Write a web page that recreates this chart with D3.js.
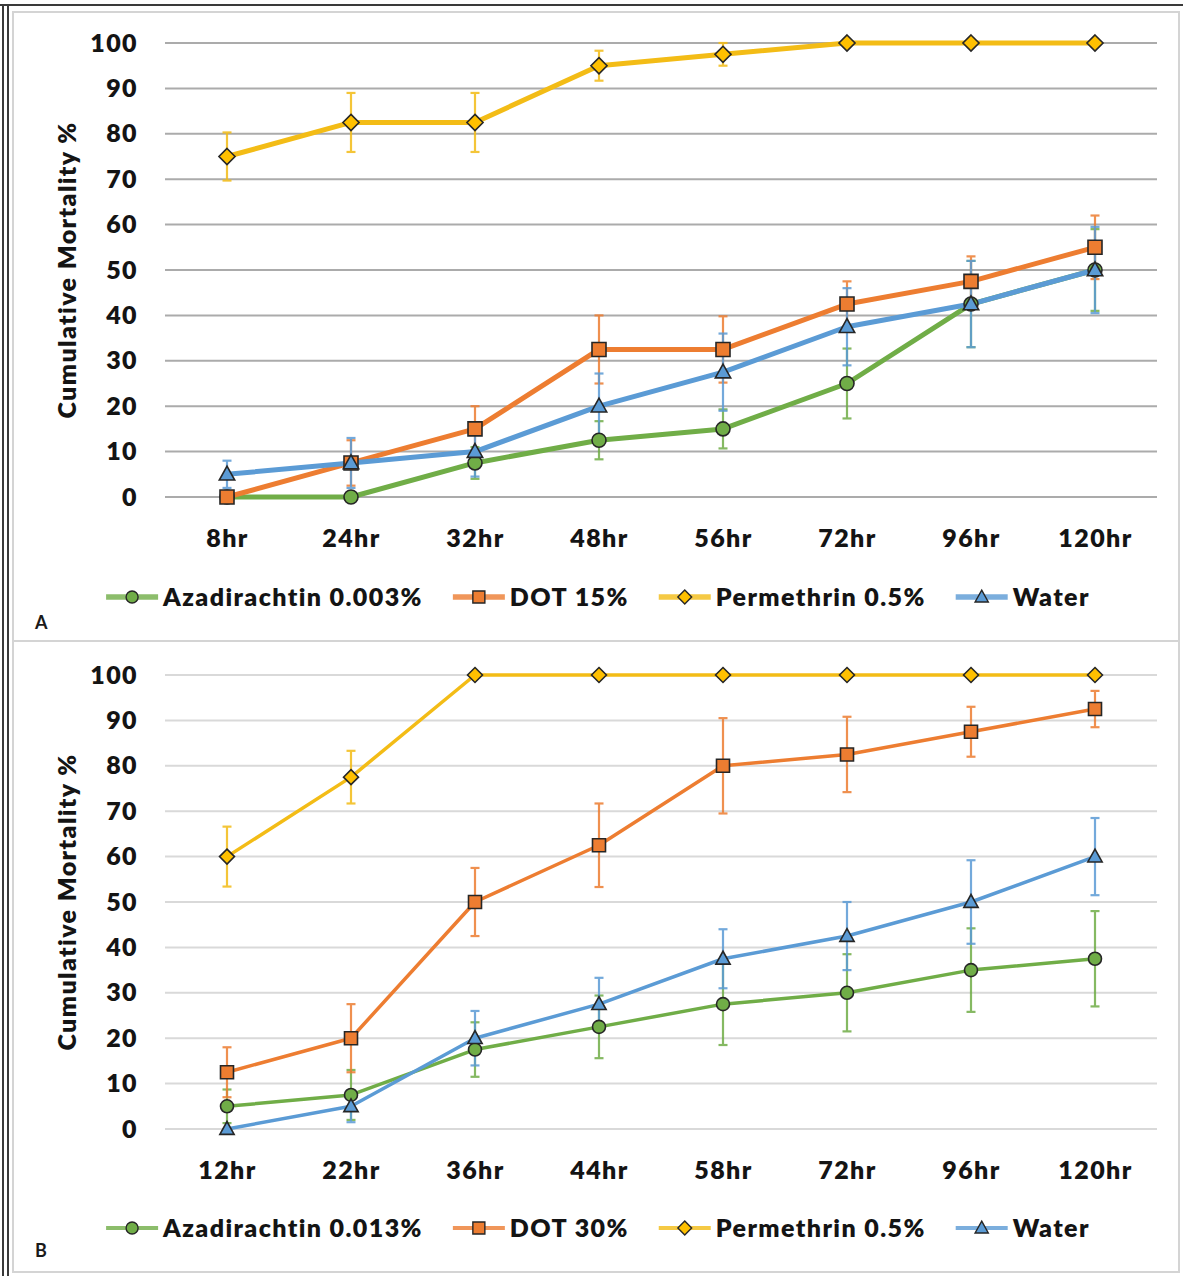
<!DOCTYPE html>
<html>
<head>
<meta charset="utf-8">
<script src="https://cdn.jsdelivr.net/npm/d3@7/dist/d3.min.js"></script>
<style>
  html, body { margin: 0; padding: 0; background: #fff; }
  svg { display: block; font-family: Lato, "Open Sans", sans-serif; }
</style>
</head>
<body>
<svg id="fig" width="1183" height="1276"></svg>
<script>
// Time points for each experiment
const timesA = ["8hr", "24hr", "32hr", "48hr", "56hr", "72hr", "96hr", "120hr"];
const timesB = ["12hr", "22hr", "36hr", "44hr", "58hr", "72hr", "96hr", "120hr"];
const yTicks = [0, 10, 20, 30, 40, 50, 60, 70, 80, 90, 100];
const yTitle = "Cumulative Mortality %";

// Experiment A: cumulative mortality (%) and error (±)
const namesA = ["Azadirachtin 0.003%", "DOT 15%", "Permethrin 0.5%", "Water"];
const azaA = [0, 0, 7.5, 12.5, 15, 25, 42.5, 50];
const azaErrA = [0, 0, 3.5, 4.2, 4.3, 7.7, 9.5, 9];
const dotA = [0, 7.5, 15, 32.5, 32.5, 42.5, 47.5, 55];
const dotErrA = [0, 5, 5, 7.5, 7.3, 5, 5.5, 7];
const permA = [75, 82.5, 82.5, 95, 97.5, 100, 100, 100];
const permErrA = [5.3, 6.5, 6.5, 3.3, 2.5, 0, 0, 0];
const waterA = [5, 7.5, 10, 20, 27.5, 37.5, 42.5, 50];
const waterErrA = [3, 5.5, 5.5, 7.2, 8.5, 8.5, 9.5, 9.5];

// Experiment B
const namesB = ["Azadirachtin 0.013%", "DOT 30%", "Permethrin 0.5%", "Water"];
const azaB = [5, 7.5, 17.5, 22.5, 27.5, 30, 35, 37.5];
const azaErrB = [3.7, 5.5, 6, 6.9, 9, 8.5, 9.2, 10.5];
const dotB = [12.5, 20, 50, 62.5, 80, 82.5, 87.5, 92.5];
const dotErrB = [5.5, 7.5, 7.5, 9.2, 10.5, 8.3, 5.5, 4];
const permB = [60, 77.5, 100, 100, 100, 100, 100, 100];
const permErrB = [6.6, 5.8, 0, 0, 0, 0, 0, 0];
const waterB = [0, 5, 20, 27.5, 37.5, 42.5, 50, 60];
const waterErrB = [0, 3.5, 6, 5.8, 6.5, 7.5, 9.2, 8.5];

// Series styling (shared by both panels)
const styles = [
  { color: "#70AD47", fill: "#70AD47", shape: "circle" },
  { color: "#ED7D31", fill: "#ED7D31", shape: "square" },
  { color: "#F3BC16", fill: "#FFC000", shape: "diamond" },
  { color: "#5B9BD5", fill: "#5B9BD5", shape: "triangle" }
];

const FONT = "Lato";
const SPACING = 1.4;   // widens Lato towards the Calibri look of the labels

const svg = d3.select("#fig");

// Figure frame: dark rule on top and a double rule on the left
svg.append("line").attr("x1", 0).attr("x2", 1183).attr("y1", 5).attr("y2", 5)
  .attr("stroke", "#3a3a3a").attr("stroke-width", 2);
svg.append("line").attr("x1", 3).attr("x2", 3).attr("y1", 4).attr("y2", 1276)
  .attr("stroke", "#3a3a3a").attr("stroke-width", 2);
svg.append("line").attr("x1", 8).attr("x2", 8).attr("y1", 4).attr("y2", 1276)
  .attr("stroke", "#3a3a3a").attr("stroke-width", 2);

function markerPath(shape, s) {
  const h = s / 2;
  if (shape === "circle") return d3.symbol(d3.symbolCircle, Math.PI * h * h)();
  if (shape === "square") return `M${-h},${-h}H${h}V${h}H${-h}Z`;
  if (shape === "diamond") { const d = h * 1.15; return `M0,${-d}L${d},0L0,${d}L${-d},0Z`; }
  const t = h * 1.1;
  return `M0,${-t * 1.05}L${t},${t * 0.75}L${-t},${t * 0.75}Z`;
}

function styleText(sel, size) {
  return sel.attr("font-family", FONT).attr("font-weight", 800).attr("font-size", size)
    .attr("letter-spacing", SPACING).attr("fill", "#141414");
}

function drawPanel(p) {
  const g = svg.append("g");

  // light panel border
  g.append("rect").attr("x", 13).attr("y", p.boxTop).attr("width", 1166).attr("height", p.boxH)
    .attr("fill", "none").attr("stroke", "#d4d4d4").attr("stroke-width", 2);

  const x = d3.scalePoint().domain(p.times).range([165, 1157]).padding(0.5);
  const y = d3.scaleLinear().domain([0, 100]).range([p.bottom, p.top]);

  // horizontal gridlines
  g.append("g").selectAll("line").data(yTicks).join("line")
    .attr("x1", 165).attr("x2", 1157)
    .attr("y1", d => y(d)).attr("y2", d => y(d))
    .attr("stroke", p.gridColor).attr("stroke-width", 2);

  // y axis labels
  const ya = g.append("g").attr("transform", "translate(165,0)")
    .call(d3.axisLeft(y).tickValues(yTicks).tickSize(0).tickPadding(27));
  ya.select(".domain").remove();
  styleText(ya.selectAll("text"), 25);

  // x axis labels
  const xa = g.append("g").attr("transform", `translate(0,${p.bottom})`)
    .call(d3.axisBottom(x).tickSize(0).tickPadding(32));
  xa.select(".domain").remove();
  styleText(xa.selectAll("text"), 25);

  // y axis title
  styleText(g.append("text")
    .attr("transform", `translate(76,${(p.top + p.bottom) / 2}) rotate(-90)`)
    .attr("text-anchor", "middle"), 25)
    .text(yTitle);

  const series = p.names.map((name, i) => ({
    name, style: styles[i],
    pts: p.times.map((t, j) => ({ t, v: p.values[i][j], e: p.errors[i][j] }))
  }));

  const line = d3.line().x(d => x(d.t)).y(d => y(d.v));

  // series lines
  g.append("g").selectAll("path").data(series).join("path")
    .attr("d", s => line(s.pts))
    .attr("fill", "none").attr("stroke", s => s.style.color)
    .attr("stroke-width", p.lineW).attr("stroke-linejoin", "round");

  // error bars
  const eb = g.append("g");
  series.forEach(s => {
    const bars = s.pts.filter(d => d.e > 0);
    const grp = eb.append("g").attr("stroke", s.style.color).attr("stroke-width", 2.2).attr("opacity", 0.85);
    grp.selectAll("line.v").data(bars).join("line").attr("class", "v")
      .attr("x1", d => x(d.t)).attr("x2", d => x(d.t))
      .attr("y1", d => y(Math.min(100, d.v + d.e))).attr("y2", d => y(d.v - d.e));
    grp.selectAll("line.top").data(bars).join("line").attr("class", "top")
      .attr("x1", d => x(d.t) - 4.5).attr("x2", d => x(d.t) + 4.5)
      .attr("y1", d => y(Math.min(100, d.v + d.e))).attr("y2", d => y(Math.min(100, d.v + d.e)));
    grp.selectAll("line.bot").data(bars).join("line").attr("class", "bot")
      .attr("x1", d => x(d.t) - 4.5).attr("x2", d => x(d.t) + 4.5)
      .attr("y1", d => y(d.v - d.e)).attr("y2", d => y(d.v - d.e));
  });

  // markers
  series.forEach(s => {
    g.append("g").selectAll("path").data(s.pts).join("path")
      .attr("transform", d => `translate(${x(d.t)},${y(d.v)})`)
      .attr("d", markerPath(s.style.shape, p.markerS))
      .attr("fill", s.style.fill).attr("stroke", "#262626").attr("stroke-width", 1.6);
  });

  // legend, centred under the chart
  const leg = g.append("g").attr("transform", `translate(0,${p.legendY})`);
  const items = leg.selectAll("g").data(series).join("g");
  items.append("line").attr("x1", 0).attr("x2", 52).attr("y1", 0).attr("y2", 0)
    .attr("stroke", s => s.style.color).attr("stroke-width", p.lineW + 0.5).attr("opacity", 0.8);
  items.append("path").attr("transform", "translate(26,0)")
    .attr("d", s => markerPath(s.style.shape, 12))
    .attr("fill", s => s.style.fill).attr("stroke", "#262626").attr("stroke-width", 1.4);
  styleText(items.append("text").attr("x", 57).attr("y", 0).attr("dy", "0.36em"), 25)
    .text(s => s.name);
  const gap = 30;
  let cursor = 0;
  const offs = [];
  items.each(function () {
    offs.push(cursor);
    cursor += this.getBBox().width + gap;
  });
  const total = cursor - gap;
  const start = 598 - total / 2;
  items.attr("transform", (d, i) => `translate(${start + offs[i]},0)`);

  // panel letter
  g.append("text").attr("x", 35).attr("y", p.letterY)
    .attr("font-family", FONT).attr("font-weight", 700).attr("font-size", 18)
    .attr("fill", "#1a1a1a").text(p.letter);
}

drawPanel({
  boxTop: 12, boxH: 629, top: 43, bottom: 497, times: timesA, names: namesA,
  values: [azaA, dotA, permA, waterA], errors: [azaErrA, dotErrA, permErrA, waterErrA],
  gridColor: "#ababab", lineW: 5, markerS: 14, legendY: 597, letterY: 629, letter: "A"
});
drawPanel({
  boxTop: 641, boxH: 631, top: 675, bottom: 1129, times: timesB, names: namesB,
  values: [azaB, dotB, permB, waterB], errors: [azaErrB, dotErrB, permErrB, waterErrB],
  gridColor: "#d9d9d9", lineW: 3.5, markerS: 13, legendY: 1228, letterY: 1257, letter: "B"
});
</script>
</body>
</html>
